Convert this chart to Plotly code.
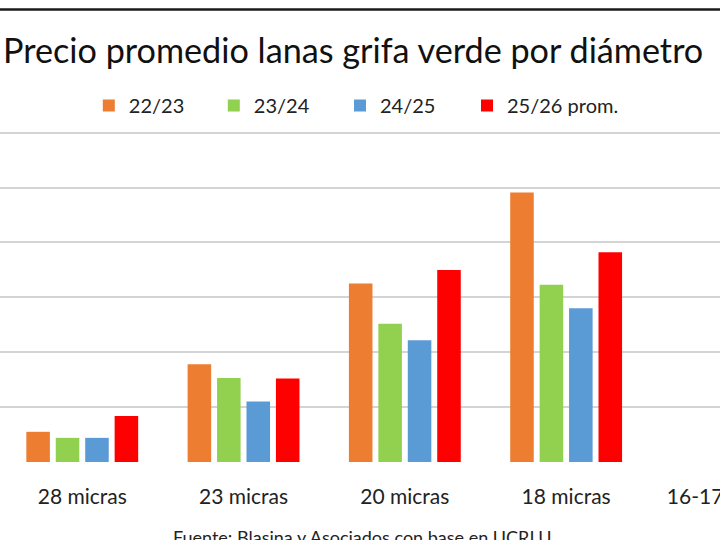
import plotly.graph_objects as go

categories = ["28 micras", "23 micras", "20 micras", "18 micras", "16-17 micras"]
series_names = ["22/23", "23/24", "24/25", "25/26 prom."]
v_2223 = [0.55, 1.78, 3.25, 4.91, None]
v_2324 = [0.44, 1.53, 2.52, 3.23, None]
v_2425 = [0.44, 1.10, 2.22, 2.80, None]
v_2526 = [0.84, 1.52, 3.50, 3.82, None]
colors = ["#ED7D31", "#92D050", "#5B9BD5", "#FF0000"]

title_text = "Precio promedio lanas grifa verde por diámetro"
source_text = "Fuente: Blasina y Asociados con base en UCRLU"

W, H = 800, 540
mt, mb = 131, 78
plot_h = H - mt - mb
FONT = "Lato"

def py(pix):
    return (H - mb - pix) / plot_h

legend_ids = ["legend", "legend2", "legend3", "legend4"]
legend_px = [88.8, 213.8, 340.0, 467.0]

fig = go.Figure()
for name, vals, col, lid in zip(series_names, [v_2223, v_2324, v_2425, v_2526], colors, legend_ids):
    fig.add_trace(go.Bar(x=categories, y=vals, name=name, marker_color=col,
                         marker_line_width=0, legend=lid))

legend_common = dict(orientation="h", xanchor="left", y=py(86), yanchor="top",
                     font=dict(size=20, family=FONT, color="#222222"),
                     bgcolor="rgba(0,0,0,0)", itemclick=False, itemdoubleclick=False)
legend_layout = {lid: dict(legend_common, x=px / W) for lid, px in zip(legend_ids, legend_px)}

fig.update_layout(
    autosize=False, width=W, height=H,
    margin=dict(l=0, r=0, t=mt, b=mb, pad=0),
    paper_bgcolor="white", plot_bgcolor="white",
    barmode="group", bargap=0.27, bargroupgap=0.2,
    font=dict(family=FONT, color="#222222"),
    showlegend=True,
    xaxis=dict(range=[-0.51, 4.45], showgrid=False, zeroline=False, showline=False,
               ticks="", ticklabelstandoff=20,
               tickfont=dict(size=21, family=FONT, color="#222222")),
    yaxis=dict(range=[0, 6.03], dtick=1, showgrid=True, gridcolor="#D4D4D4", gridwidth=1.5,
               zeroline=False, showline=False, showticklabels=False, ticks=""),
    annotations=[
        dict(text=title_text, xref="paper", yref="paper", x=353 / W, y=py(49),
             xanchor="center", yanchor="middle", showarrow=False,
             font=dict(size=34.2, family=FONT, color="#111111")),
        dict(text=source_text, xref="paper", yref="paper", x=362 / W, y=py(524),
             xanchor="center", yanchor="top", showarrow=False,
             font=dict(size=18, family=FONT, color="#222222")),
    ],
    shapes=[
        dict(type="line", xref="paper", yref="paper", x0=0, x1=1, y0=py(9.5), y1=py(9.5),
             line=dict(color="#1A1A1A", width=2.5)),
    ],
    **legend_layout,
)

fig.write_html("out.html",
               post_script="document.body.style.overflow='hidden';document.documentElement.style.overflow='hidden';")
